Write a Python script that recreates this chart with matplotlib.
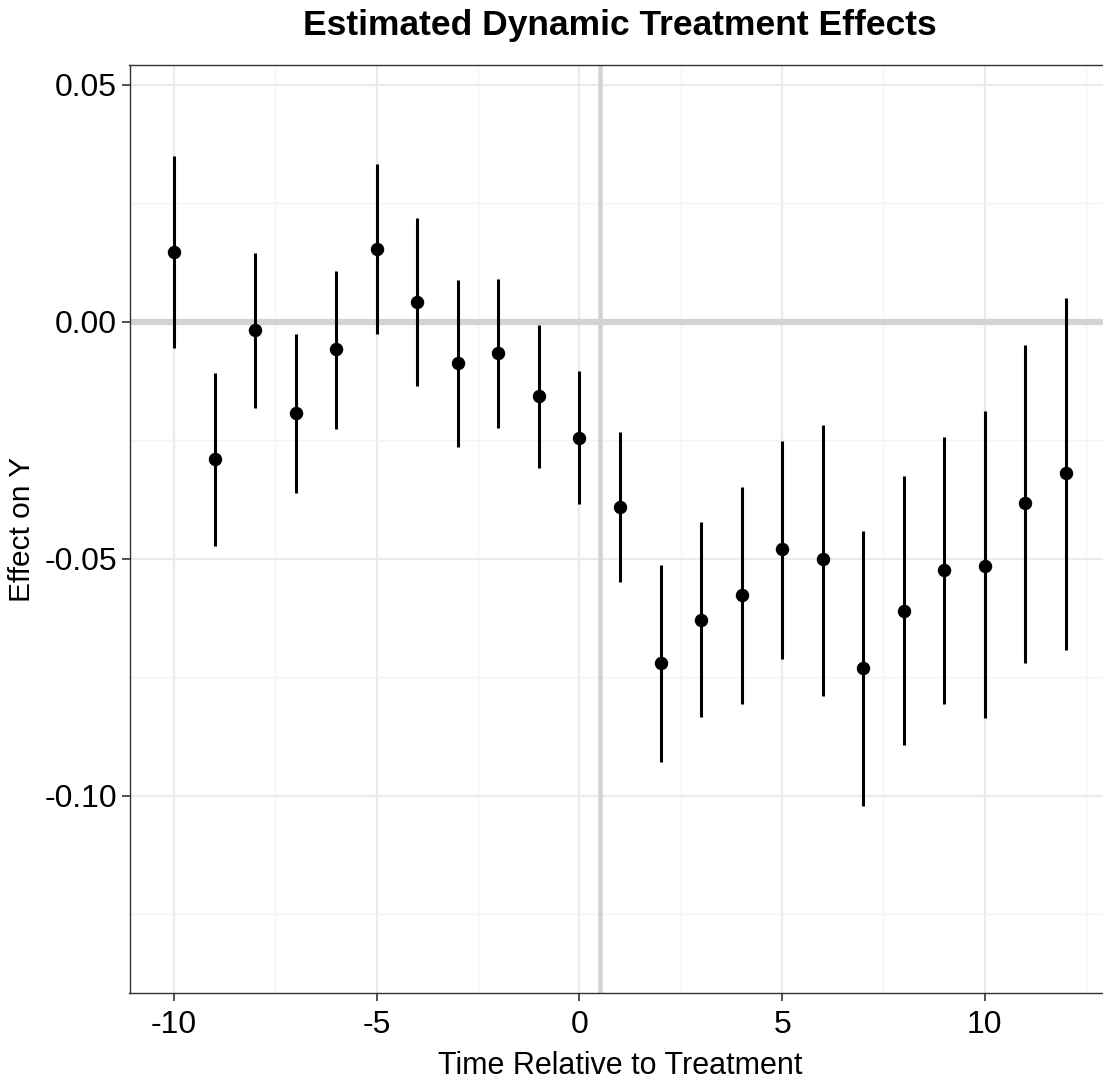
import matplotlib
matplotlib.use("Agg")
import matplotlib.pyplot as plt
from matplotlib.ticker import FixedLocator

# event time relative to treatment
event_time = [-10, -9, -8, -7, -6, -5, -4, -3, -2, -1, 0, 1,
              2, 3, 4, 5, 6, 7, 8, 9, 10, 11, 12]
estimate = [0.0148, -0.0289, -0.0017, -0.0192, -0.0057, 0.0154, 0.0042, -0.0086,
            -0.0065, -0.0156, -0.0245, -0.0390, -0.0719, -0.0629, -0.0576, -0.0479,
            -0.0500, -0.0730, -0.0610, -0.0523, -0.0515, -0.0382, -0.0319]
ci_upper = [0.0350, -0.0108, 0.0146, -0.0025, 0.0108, 0.0333, 0.0219, 0.0089,
            0.0091, -0.0006, -0.0103, -0.0232, -0.0513, -0.0422, -0.0348, -0.0251,
            -0.0217, -0.0441, -0.0325, -0.0243, -0.0188, -0.0049, 0.0051]
ci_lower = [-0.0055, -0.0473, -0.0181, -0.0361, -0.0226, -0.0025, -0.0135, -0.0264,
            -0.0224, -0.0308, -0.0384, -0.0549, -0.0928, -0.0833, -0.0806, -0.0711,
            -0.0789, -0.1021, -0.0892, -0.0806, -0.0835, -0.0719, -0.0692]

plt.rcParams['font.family'] = ['Liberation Sans', 'DejaVu Sans']

fig = plt.figure(figsize=(11.03, 10.82), dpi=100)
# panel runs a little past the right edge, like the reference crop
ax = fig.add_axes([129.5 / 1103, 1 - 993 / 1082, (1110.5 - 129.5) / 1103, (993 - 65) / 1082])

ax.set_xlim(-11.1, 13.1)
ax.set_ylim(-0.1416, 0.0542)

ax.xaxis.set_major_locator(FixedLocator([-10, -5, 0, 5, 10]))
ax.xaxis.set_minor_locator(FixedLocator([-7.5, -2.5, 2.5, 7.5, 12.5]))
ax.yaxis.set_major_locator(FixedLocator([-0.10, -0.05, 0.0, 0.05]))
ax.yaxis.set_minor_locator(FixedLocator([-0.125, -0.075, -0.025, 0.025]))
ax.set_yticklabels(['-0.10', '-0.05', '0.00', '0.05'])
ax.set_xticklabels(['-10', '-5', '0', '5', '10'])

ax.grid(which='major', color='#EBEBEB', linewidth=1.6, zorder=0)
ax.grid(which='minor', color='#F3F3F3', linewidth=1.0, zorder=0)
ax.set_axisbelow(True)

ax.axhline(0, color='#D3D3D3', linewidth=4.5, zorder=1)
ax.axvline(0.5, color='#D3D3D3', linewidth=3.3, zorder=1)

ax.vlines(event_time, ci_lower, ci_upper, color='black', linewidth=2.2, zorder=3)
ax.scatter(event_time, estimate, color='black', s=75, zorder=4)

for s in ax.spines.values():
    s.set_color('#333333')
    s.set_linewidth(1.0)

ax.tick_params(which='major', direction='out', length=6, width=1.2, color='#333333',
               labelsize=23, labelcolor='black')
ax.tick_params(axis='y', pad=3)
ax.tick_params(axis='x', pad=6)
ax.tick_params(which='minor', length=0)

ax.set_xlabel('Time Relative to Treatment', fontsize=22, labelpad=8)
ax.set_ylabel('Effect on Y', fontsize=21.5, labelpad=6)
fig.text(620 / 1103, 1 - 25 / 1082, 'Estimated Dynamic Treatment Effects',
         fontsize=25.5, fontweight='bold', ha='center', va='center')

fig.savefig('out.png', dpi=100)
